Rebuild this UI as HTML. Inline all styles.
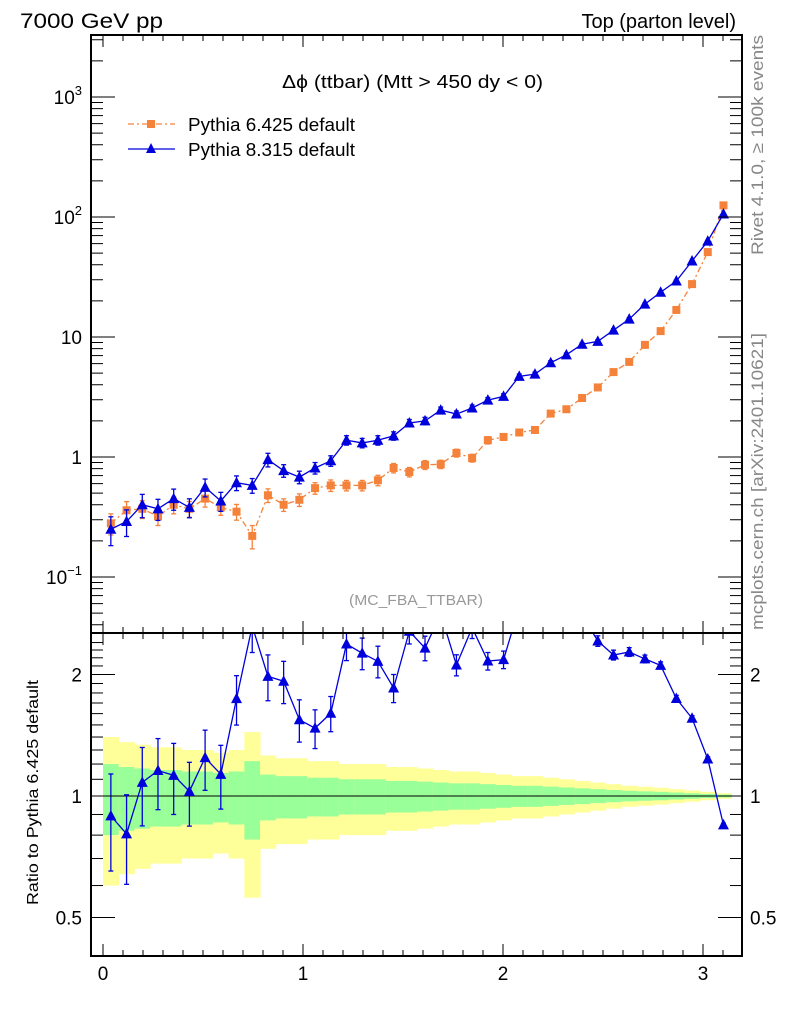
<!DOCTYPE html>
<html><head><meta charset="utf-8"><style>
body{margin:0;background:#fff}
svg{display:block;font-family:"Liberation Sans",sans-serif}
</style></head><body>
<svg id="chart" width="786" height="1024" xmlns="http://www.w3.org/2000/svg">
<g id="bands"></g>
<g id="marks"></g>
<g id="axes"></g>
<text x="20" y="28" font-size="21" textLength="143" lengthAdjust="spacingAndGlyphs">7000 GeV pp</text>
<text x="736" y="28" font-size="20" text-anchor="end">Top (parton level)</text>
<text x="282" y="88" font-size="18" textLength="261" lengthAdjust="spacingAndGlyphs">Δϕ (ttbar) (Mtt &gt; 450 dy &lt; 0)</text>
<g>
<line x1="128" y1="124" x2="175" y2="124" stroke="#f5823a" stroke-width="1.3" stroke-dasharray="6,3,2,3"/>
<rect x="147" y="120" width="8" height="8" fill="#f5823a"/>
<text x="188" y="131" font-size="18" textLength="167" lengthAdjust="spacingAndGlyphs">Pythia 6.425 default</text>
<line x1="128" y1="149" x2="175" y2="149" stroke="#0000dd" stroke-width="1.3"/>
<polygon points="151,143 146,153 156,153" fill="#0000dd"/>
<text x="188" y="156" font-size="18" textLength="167" lengthAdjust="spacingAndGlyphs">Pythia 8.315 default</text>
</g>
<text x="349" y="605" font-size="15" fill="#999" textLength="134" lengthAdjust="spacingAndGlyphs">(MC_FBA_TTBAR)</text>
<text transform="translate(763,255) rotate(-90)" font-size="17" fill="#888" textLength="220" lengthAdjust="spacingAndGlyphs">Rivet 4.1.0, ≥ 100k events</text>
<text transform="translate(763,630) rotate(-90)" font-size="17" fill="#888" textLength="297" lengthAdjust="spacingAndGlyphs">mcplots.cern.ch [arXiv:2401.10621]</text>
<text transform="translate(38,905) rotate(-90)" font-size="16" textLength="225" lengthAdjust="spacingAndGlyphs">Ratio to Pythia 6.425 default</text>
</svg>
<script>
const py6 = [0.28,0.36,0.37,0.32,0.40,0.37,0.45,0.38,0.35,0.22,0.48,0.40,0.44,0.55,0.58,0.58,0.58,0.64,0.81,0.75,0.86,0.87,1.08,0.98,1.38,1.47,1.6,1.68,2.3,2.5,3.1,3.8,5.1,6.2,8.6,11.2,16.8,27.6,51,125];
const py8 = [0.25,0.29,0.40,0.37,0.45,0.38,0.56,0.43,0.61,0.58,0.95,0.77,0.68,0.81,0.93,1.38,1.31,1.38,1.5,1.92,2.0,2.46,2.28,2.56,2.98,3.2,4.7,4.9,6.1,7.1,8.7,9.2,11.4,14.1,18.8,23.6,29.3,43,63,106];
const py6Err = [0.2,0.18,0.17,0.16,0.16,0.15,0.15,0.14,0.15,0.22,0.13,0.12,0.12,0.11,0.11,0.10,0.10,0.10,0.09,0.09,0.085,0.08,0.075,0.075,0.07,0.065,0.06,0.06,0.055,0.05,0.045,0.04,0.035,0.03,0.027,0.024,0.02,0.016,0.012,0.008];
const py8Err = [0.27,0.25,0.22,0.2,0.2,0.18,0.17,0.18,0.14,0.14,0.13,0.12,0.12,0.11,0.1,0.09,0.09,0.09,0.08,0.07,0.07,0.06,0.06,0.06,0.05,0.05,0.045,0.04,0.04,0.035,0.03,0.03,0.028,0.025,0.022,0.02,0.018,0.015,0.012,0.01];
const xTicks = [0,1,2,3];
const yTicks = [0.1,1,10,100,1000];
const yTickLabels = ["10^-1","1","10","10^2","10^3"];
const rTicks = [0.5,1,2];

const NS="http://www.w3.org/2000/svg";
const L=91,R=742,T=35,M=633,B=956;
const NB=py6.length, W=Math.PI/NB;
const X=v=>103+200*v;
const Y=v=>457-120*Math.log10(v);
const YR=r=>796-121.5*Math.log2(r);
function mk(tag,attrs,parent){const e=document.createElementNS(NS,tag);for(const k in attrs)e.setAttribute(k,attrs[k]);parent.appendChild(e);return e;}
const bands=document.getElementById('bands'),marks=document.getElementById('marks'),axes=document.getElementById('axes');

for(let i=0;i<NB;i++){
  const x0=X(i*W),x1=X((i+1)*W),e=py6Err[i];
  const yb=mk('rect',{x:x0,y:YR(1+2*e),width:x1-x0+0.5,height:YR(Math.max(1-2*e,0.3))-YR(1+2*e),fill:'#ffff99'},bands);
  
  
  const gb=mk('rect',{x:x0,y:YR(1+e),width:x1-x0+0.5,height:YR(1-e)-YR(1+e),fill:'#99ff99'},bands);
  
  
}
mk('line',{x1:L,x2:R,y1:YR(1),y2:YR(1),stroke:'#000','stroke-width':1},bands);

const defs=mk('defs',{},marks);
const c1=mk('clipPath',{id:'cm'},defs);mk('rect',{x:L,y:T,width:R-L,height:M-T},c1);
const c2=mk('clipPath',{id:'cr'},defs);mk('rect',{x:L,y:M,width:R-L,height:B-M},c2);
const gm=mk('g',{'clip-path':'url(#cm)'},marks), gr=mk('g',{'clip-path':'url(#cr)'},marks);

function series(g,vals,errs,col,dash,shape,yf){
  const pts=vals.map((v,i)=>[X((i+0.5)*W),yf(v)]);
  const pl=mk('polyline',{points:pts.map(p=>p.join(',')).join(' '),fill:'none',stroke:col,'stroke-width':1.3},g);
  if(dash)pl.setAttribute('stroke-dasharray',dash);
  
  
  vals.forEach((v,i)=>{
    const x=pts[i][0],y=pts[i][1];
    const y1=yf(v*(1+errs[i])),y2=yf(v*(1-errs[i]));
    mk('line',{x1:x,x2:x,y1:y1,y2:y2,stroke:col,'stroke-width':1.3},g);
    mk('line',{x1:x-2.5,x2:x+2.5,y1:y1,y2:y1,stroke:col,'stroke-width':1.3},g);
    mk('line',{x1:x-2.5,x2:x+2.5,y1:y2,y2:y2,stroke:col,'stroke-width':1.3},g);
    let m;
    if(shape==='sq') m=mk('rect',{x:x-4,y:y-4,width:8,height:8,fill:col},g);
    else m=mk('polygon',{points:`${x},${y-6} ${x-5.5},${y+4.5} ${x+5.5},${y+4.5}`,fill:col},g);
    
    
  });
}
series(gm,py6,py6Err,'#f5823a','6,3,2,3','sq',Y);
series(gm,py8,py8Err,'#0000dd',null,'tri',Y);
const ratio=py8.map((v,i)=>v/py6[i]);
series(gr,ratio,py8Err,'#0000dd',null,'tri',YR);

mk('rect',{x:L,y:T,width:R-L,height:M-T,fill:'none',stroke:'#000','stroke-width':2},axes);
mk('rect',{x:L,y:M,width:R-L,height:B-M,fill:'none',stroke:'#000','stroke-width':2},axes);
for(let v=0;v<=3.2;v+=0.1){
  const x=X(v);if(x<L||x>R)continue;
  const major=Math.abs(v-Math.round(v))<1e-6, h=major?12:6;
  [[M,-1],[T,1],[B,-1],[M,1]].forEach(([yy,d])=>mk('line',{x1:x,x2:x,y1:yy,y2:yy+d*h,stroke:'#000','stroke-width':1},axes));
}
xTicks.forEach(v=>{const t=mk('text',{x:X(v),y:980,'font-size':19,'text-anchor':'middle'},axes);t.textContent=v;

});
for(let d=-2;d<=3;d++)for(let k=1;k<10;k++){
  const v=k*Math.pow(10,d),y=Y(v);if(y<T||y>M)continue;
  const h=k===1?24:12;
  mk('line',{x1:L,x2:L+h,y1:y,y2:y,stroke:'#000','stroke-width':1},axes);
  mk('line',{x1:R,x2:R-h,y1:y,y2:y,stroke:'#000','stroke-width':1},axes);
}
yTicks.forEach((v,i)=>{
  const lab=yTickLabels[i];const t=mk('text',{x:82,y:Y(v)+7,'font-size':19,'text-anchor':'end'},axes);
  if(lab.includes('^')){const [b,e]=lab.split('^');t.textContent=b;const s=mk('tspan',{dy:-9,'font-size':13},t);s.textContent=e.replace('-','−');}
  else t.textContent=lab;
  
  
});
const rminor=[0.4,0.5,0.6,0.7,0.8,0.9,1,1.1,1.2,1.3,1.4,1.5,1.6,1.7,1.8,1.9,2,2.1,2.2,2.3,2.4];
rminor.forEach(r=>{const y=YR(r);if(y<M||y>B)return;const h=rTicks.includes(r)?24:12;
  mk('line',{x1:L,x2:L+h,y1:y,y2:y,stroke:'#000','stroke-width':1},axes);
  mk('line',{x1:R,x2:R-h,y1:y,y2:y,stroke:'#000','stroke-width':1},axes);});
rTicks.forEach(r=>{
  const a=mk('text',{x:82,y:YR(r)+7,'font-size':19,'text-anchor':'end'},axes);a.textContent=r;
  
  
  const b=mk('text',{x:750,y:YR(r)+7,'font-size':19},axes);b.textContent=r;
  
  
});
</script>
</body></html>
